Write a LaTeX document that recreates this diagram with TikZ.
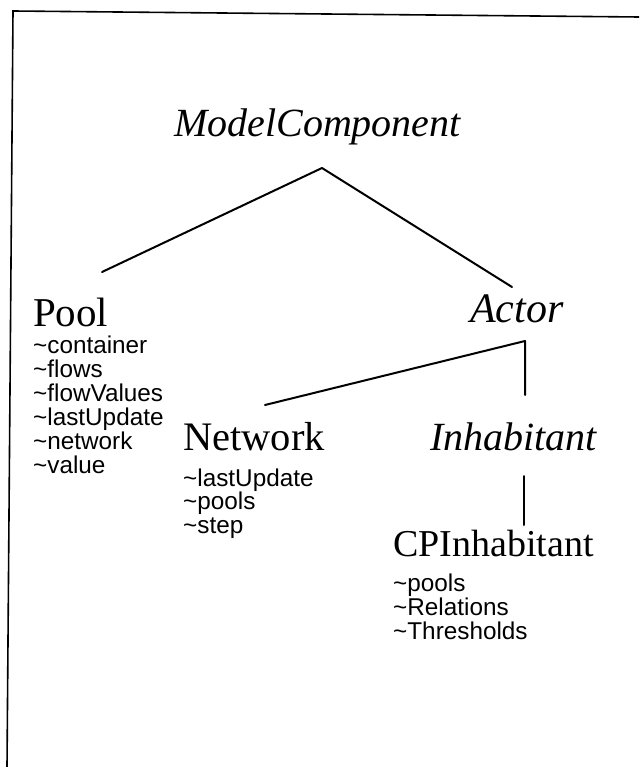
\documentclass[tikz,border=0pt]{standalone}
\usepackage{fontspec}
\setmainfont{Liberation Serif}
\newfontfamily\attrfont{Liberation Sans}
\begin{document}
\begin{tikzpicture}[x=1pt,y=-1pt,
  classname/.style={anchor=base west, inner sep=0pt, font=\fontsize{39}{39}\selectfont},
  abstractname/.style={anchor=base west, inner sep=0pt, font=\fontsize{40}{40}\selectfont\itshape},
  attr/.style={anchor=base west, inner sep=0pt, font=\attrfont\fontsize{24.3}{24}\selectfont},
  link/.style={line width=2pt, line cap=round, line join=round},
  frameline/.style={line width=1.6pt}]
\useasboundingbox (0,0) rectangle (639,767);

% page frame (top and left edges)
\coordinate (fr-tl) at (13,11);
\coordinate (fr-tr) at (639,17);
\coordinate (fr-bl) at (7,767);
\draw[frameline] (fr-tr) -- (fr-tl) -- (fr-bl);

% class names
\node[abstractname] (modelcomponent) at (174,137) {ModelComponent};
\node[classname, font=\fontsize{41}{41}\selectfont] (pool) at (33,326) {Pool};
\node[abstractname, font=\fontsize{42}{42}\selectfont\itshape] (actor) at (470,322) {Actor};
\node[classname, font=\fontsize{40.5}{40}\selectfont] (network) at (183,450) {Network};
\node[abstractname] (inhabitant) at (430,450) {Inhabitant};
\node[classname, font=\fontsize{38}{38}\selectfont] (cpinhabitant) at (393,556) {CPInhabitant};

% attributes
\foreach \t [count=\i] in {container,flows,flowValues,lastUpdate,network,value}
  \node[attr] (pool-a\i) at (33,{353+24*(\i-1)}) {\textasciitilde\t};
\foreach \t [count=\i] in {lastUpdate,pools,step}
  \node[attr] (network-a\i) at (183,{486+23.8*(\i-1)}) {\textasciitilde\t};
\foreach \t [count=\i] in {pools,Relations,Thresholds}
  \node[attr] (cpinhabitant-a\i) at (393,{591+24*(\i-1)}) {\textasciitilde\t};

% inheritance links
\coordinate (mc-root) at (322,168);
\coordinate (pool-top) at (102,272);
\coordinate (actor-top) at (512,287);
\coordinate (actor-root) at (525,341);
\coordinate (network-top) at (265,405);
\coordinate (inhabitant-top) at (525,395);
\coordinate (inhabitant-root) at (524,476);
\coordinate (cpinhabitant-top) at (524,525);

\draw[link] (pool-top) -- (mc-root) -- (actor-top);
\draw[link] (network-top) -- (actor-root) -- (inhabitant-top);
\draw[link] (inhabitant-root) -- (cpinhabitant-top);
\end{tikzpicture}
\end{document}
